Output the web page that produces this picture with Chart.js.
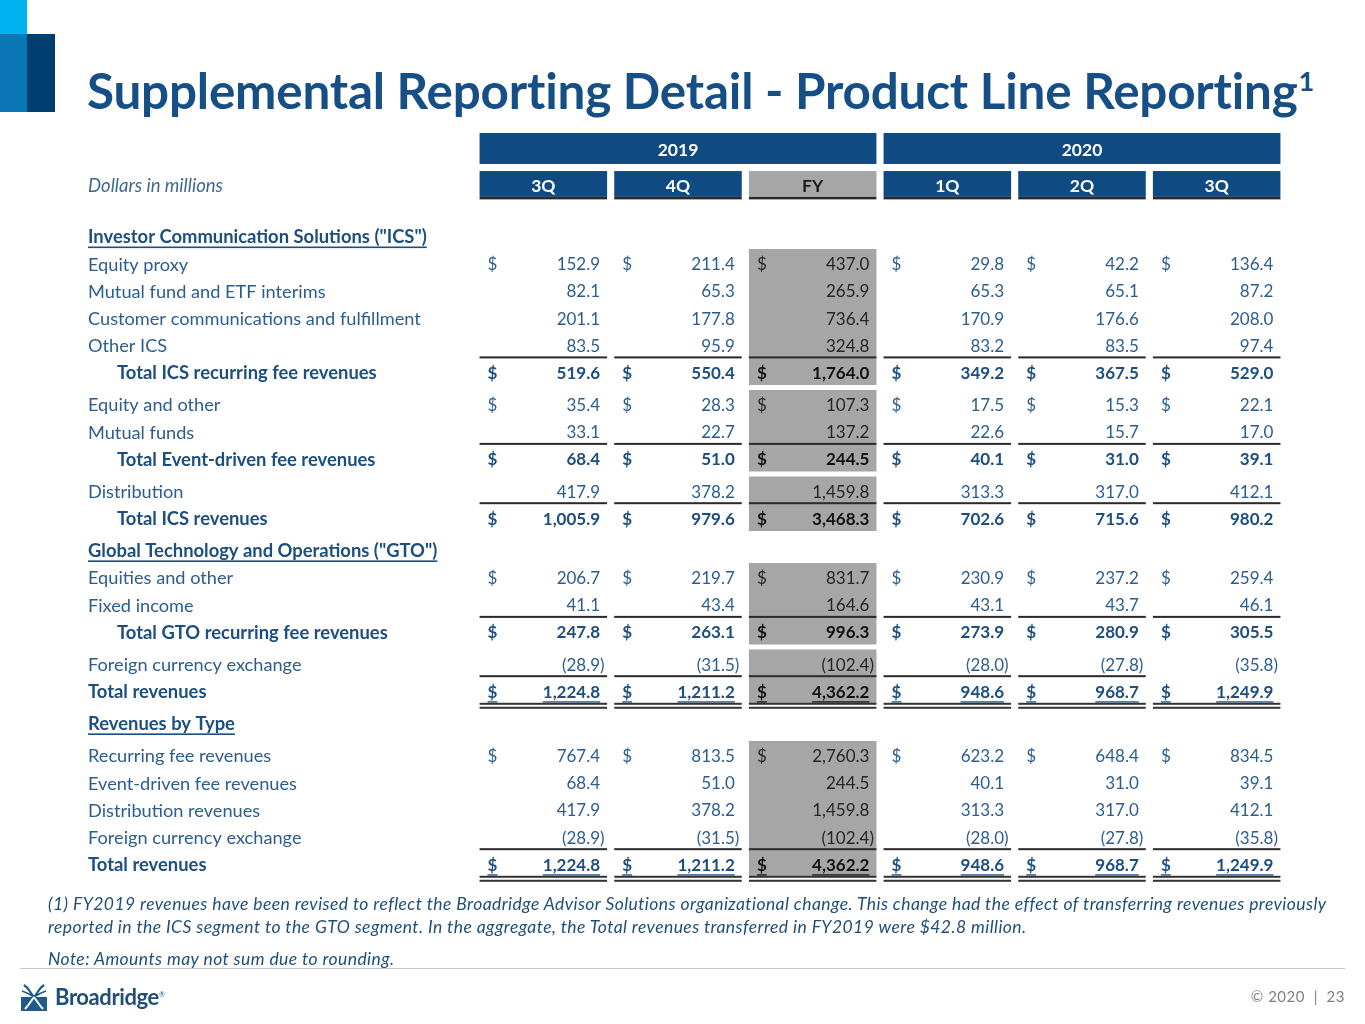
<!DOCTYPE html>
<html>
<head>
<meta charset="utf-8">
<script src="https://cdn.jsdelivr.net/npm/chart.js@4.4.1/dist/chart.umd.min.js"></script>
<style>
  html, body { margin: 0; padding: 0; background: #fff; }
  body { width: 1365px; height: 1024px; position: relative; overflow: hidden; font-family: Lato, "Open Sans", sans-serif; }
  #wrap { position: absolute; left: 0; top: 0; width: 1365px; height: 1024px; }
  .abs { position: absolute; white-space: nowrap; }
  #title { left: 87px; top: 60px; font-weight: 700; font-size: 49.4px; color: #154f86; letter-spacing: -0.2px; }
  #title sup { font-size: 27px; position: relative; margin-left: 1px; vertical-align: 18px; line-height: 0; }
  .note { left: 48px; font-style: italic; font-size: 17.5px; letter-spacing: 0.42px; color: #1f4e79; }
  #rule { left: 20px; top: 968px; width: 1325px; height: 1px; background: #c8c8c8; }
  #brand { left: 55px; top: 983px; font-weight: 700; font-size: 22px; color: #1f4e79; letter-spacing: -0.4px; }
  #brand sup { font-size: 7px; font-weight: 400; }
  #page { right: 20px; top: 987px; font-size: 15px; color: #7f7f7f; letter-spacing: 0.5px; }
</style>
</head>
<body>
<div class="abs" style="left:0;top:0;width:27px;height:34px;background:#00b2ef"></div>
<div class="abs" style="left:0;top:34px;width:27px;height:78px;background:#0a76b5"></div>
<div class="abs" style="left:27px;top:34px;width:28px;height:78px;background:#003e70"></div>
<div id="title" class="abs">Supplemental Reporting Detail - Product Line Reporting<sup>1</sup></div>

<div id="wrap"><canvas id="tbl"></canvas></div>

<div class="abs note" style="top:893px">(1) FY2019 revenues have been revised to reflect the Broadridge Advisor Solutions organizational change. This change had the effect of transferring revenues previously</div>
<div class="abs note" style="top:916px">reported in the ICS segment to the GTO segment. In the aggregate, the Total revenues transferred in FY2019 were $42.8 million.</div>
<div class="abs note" style="top:948px">Note: Amounts may not sum due to rounding.</div>
<div id="rule" class="abs"></div>
<svg class="abs" style="left:21px;top:983px" width="26" height="28" viewBox="0 0 26 28">
  <rect x="0" y="0" width="26" height="28" fill="#ffffff"/>
  <rect x="0" y="14" width="26" height="14" fill="#1f5a8c"/>
  <path d="M3 2 C9 6 9 10 13 14 C17 10 17 6 23 2" stroke="#1f5a8c" stroke-width="2.2" fill="none"/>
  <path d="M1 8 C7 10 10 12 13 14 C16 12 19 10 25 8" stroke="#1f5a8c" stroke-width="1.6" fill="none"/>
  <path d="M13 14 C10 18 8 22 4 26 M13 14 C16 18 18 22 22 26" stroke="#ffffff" stroke-width="2" fill="none"/>
</svg>
<div id="brand" class="abs">Broadridge<sup>&reg;</sup></div>
<div id="page" class="abs">&copy; 2020 &nbsp;|&nbsp; 23</div>

<script>
// ---- data (dollars in millions) ----
const yearLabels = ['2019', '2020'];
const colLabels = ['3Q', '4Q', 'FY', '1Q', '2Q', '3Q'];
const colKeys = ['3Q 2019', '4Q 2019', 'FY 2019', '1Q 2020', '2Q 2020', '3Q 2020'];

const rowLabels = [
  'Investor Communication Solutions ("ICS")',
  'Equity proxy',
  'Mutual fund and ETF interims',
  'Customer communications and fulfillment',
  'Other ICS',
  'Total ICS recurring fee revenues',
  'Equity and other',
  'Mutual funds',
  'Total Event-driven fee revenues',
  'Distribution',
  'Total ICS revenues',
  'Global Technology and Operations ("GTO")',
  'Equities and other',
  'Fixed income',
  'Total GTO recurring fee revenues',
  'Foreign currency exchange',
  'Total revenues',
  'Revenues by Type',
  'Recurring fee revenues',
  'Event-driven fee revenues',
  'Distribution revenues',
  'Foreign currency exchange',
  'Total revenues'
];
const rowKinds = ['section', 'item', 'item', 'item', 'item', 'total', 'item', 'item', 'total', 'item', 'total',
  'section', 'item', 'item', 'total', 'item', 'grand', 'section', 'item', 'item', 'item', 'item', 'grand'];

const q3_2019 = [null, 152.9, 82.1, 201.1, 83.5, 519.6, 35.4, 33.1, 68.4, 417.9, 1005.9,
  null, 206.7, 41.1, 247.8, -28.9, 1224.8, null, 767.4, 68.4, 417.9, -28.9, 1224.8];
const q4_2019 = [null, 211.4, 65.3, 177.8, 95.9, 550.4, 28.3, 22.7, 51.0, 378.2, 979.6,
  null, 219.7, 43.4, 263.1, -31.5, 1211.2, null, 813.5, 51.0, 378.2, -31.5, 1211.2];
const fy_2019 = [null, 437.0, 265.9, 736.4, 324.8, 1764.0, 107.3, 137.2, 244.5, 1459.8, 3468.3,
  null, 831.7, 164.6, 996.3, -102.4, 4362.2, null, 2760.3, 244.5, 1459.8, -102.4, 4362.2];
const q1_2020 = [null, 29.8, 65.3, 170.9, 83.2, 349.2, 17.5, 22.6, 40.1, 313.3, 702.6,
  null, 230.9, 43.1, 273.9, -28.0, 948.6, null, 623.2, 40.1, 313.3, -28.0, 948.6];
const q2_2020 = [null, 42.2, 65.1, 176.6, 83.5, 367.5, 15.3, 15.7, 31.0, 317.0, 715.6,
  null, 237.2, 43.7, 280.9, -27.8, 968.7, null, 648.4, 31.0, 317.0, -27.8, 968.7];
const q3_2020 = [null, 136.4, 87.2, 208.0, 97.4, 529.0, 22.1, 17.0, 39.1, 412.1, 980.2,
  null, 259.4, 46.1, 305.5, -35.8, 1249.9, null, 834.5, 39.1, 412.1, -35.8, 1249.9];
const columns = [q3_2019, q4_2019, fy_2019, q1_2020, q2_2020, q3_2020];

// rows that carry a "$", subtotal rules, and row groups (shaded in the FY column)
const dollarRows = [1, 5, 6, 8, 10, 12, 14, 16, 18, 22];
const ruleBelow = [4, 7, 9, 13, 15, 21];
const rowGroups = [[1, 5], [6, 8], [9, 10], [12, 14], [15, 16], [18, 22]];

// ---- layout ----
const FY = 2;
const W = 1365, H = 1024;
const ROW0 = 235.5, STEP = 27.2, GAP = 0.18;
const AREA_TOP = 128, AREA_BOTTOM = 884;
const GAP_BEFORE = [6, 9, 11, 15, 17, 18];
const LABEL_X = 88, INDENT = 29, TXT_DY = 2;
const FONT = 'Lato, "Open Sans", sans-serif';
const BLUE = '#2c5d8f', BLUE_DARK = '#1c4e80', HEAD = '#0f4b82', GREY = '#a6a6a6', INK = '#262626';
const BAR_PCT = 0.947;

function rowPos(i) {
  return i + GAP * GAP_BEFORE.filter(g => g <= i).length;
}
const yMin = -(ROW0 - AREA_TOP) / STEP;
const yMax = yMin + (AREA_BOTTOM - AREA_TOP) / STEP;

function fmt(v) {
  return Math.abs(v).toLocaleString('en-US', { minimumFractionDigits: 1, maximumFractionDigits: 1 });
}

const blockSets = rowGroups.map(([a, b]) => ({
  data: colKeys.map((_, i) => i === FY ? [rowPos(a) - 0.5, rowPos(b) + 0.5] : null),
  backgroundColor: GREY,
  grouped: false,
  barPercentage: BAR_PCT,
  categoryPercentage: 1
}));

const tablePlugin = {
  id: 'tableCells',
  afterDatasetsDraw(chart) {
    const { ctx, scales: { x, y } } = chart;
    const colW = x.getPixelForValue(1) - x.getPixelForValue(0);
    const half = colW * BAR_PCT / 2;
    const L = i => x.getPixelForValue(i) - half;
    const R = i => x.getPixelForValue(i) + half;
    const Y = v => y.getPixelForValue(v);
    const step = Y(1) - Y(0);
    ctx.save();
    ctx.textBaseline = 'middle';

    // header bands
    const yt = Y(0) - 3.77 * step, yb = Y(0) - 2.63 * step;
    ctx.font = `700 17.5px ${FONT}`;
    ctx.textAlign = 'center';
    yearLabels.forEach((lab, k) => {
      const a = L(k * 3), b = R(k * 3 + 2);
      ctx.fillStyle = HEAD;
      ctx.fillRect(a, yt, b - a, yb - yt);
      ctx.fillStyle = '#fff';
      ctx.fillText(lab, (a + b) / 2, (yt + yb) / 2 + TXT_DY);
    });
    const qt = Y(0) - 2.37 * step, qb = Y(0) - 1.42 * step;
    colLabels.forEach((lab, i) => {
      ctx.fillStyle = i === FY ? GREY : HEAD;
      ctx.fillRect(L(i), qt, R(i) - L(i), qb - qt);
      ctx.fillStyle = '#2a2a2a';
      ctx.fillRect(L(i), qb, R(i) - L(i), 2.5);
      ctx.fillStyle = i === FY ? '#1a1a1a' : '#fff';
      ctx.fillText(lab, x.getPixelForValue(i), (qt + qb) / 2 + TXT_DY);
    });
    ctx.textAlign = 'left';
    ctx.font = `italic 18.5px ${FONT}`;
    ctx.fillStyle = '#3f6892';
    ctx.fillText('Dollars in millions', LABEL_X, (qt + qb) / 2 + TXT_DY);

    // rows
    rowLabels.forEach((lab, r) => {
      const kind = rowKinds[r];
      const cy = Y(rowPos(r)) + TXT_DY;
      const bold = kind !== 'item';
      ctx.textAlign = 'left';
      ctx.font = bold ? `700 18.4px ${FONT}` : `400 18.2px ${FONT}`;
      ctx.fillStyle = bold ? BLUE_DARK : BLUE;
      const lx = kind === 'total' ? LABEL_X + INDENT : LABEL_X;
      ctx.fillText(lab, lx, cy);
      if (kind === 'section') {
        const tw = ctx.measureText(lab).width;
        ctx.fillRect(lx, cy + 9, tw, 1.6);
        return;
      }
      columns.forEach((col, i) => {
        const v = col[r];
        if (v == null) return;
        const color = i === FY ? (bold ? '#111' : INK) : (bold ? BLUE_DARK : BLUE);
        ctx.fillStyle = color;
        ctx.font = `${bold ? 700 : 400} 17px ${FONT}`;
        const rx = R(i) - 7;
        let numL;
        ctx.textAlign = 'right';
        if (v < 0) {
          const s = '(' + fmt(v);
          ctx.fillText(s, rx, cy);
          ctx.textAlign = 'left';
          ctx.fillText(')', rx, cy);
          numL = rx - ctx.measureText(s).width;
        } else {
          const s = fmt(v);
          ctx.fillText(s, rx, cy);
          numL = rx - ctx.measureText(s).width;
        }
        if (dollarRows.includes(r)) {
          ctx.textAlign = 'left';
          ctx.fillText('$', L(i) + 8, cy);
          if (kind === 'grand') {
            const dw = ctx.measureText('$').width;
            ctx.fillRect(L(i) + 8, cy + 9, dw, 1.3);
          }
        }
        const by = Y(rowPos(r));
        if (kind === 'grand') {
          ctx.fillRect(numL, cy + 9, rx - numL, 1.3);
          ctx.fillStyle = '#333';
          ctx.fillRect(L(i), by + 12.5, R(i) - L(i), 2);
          ctx.fillRect(L(i), by + 16.5, R(i) - L(i), 2);
        }
        if (ruleBelow.includes(r) && !(r === 15 && i === 5)) {
          ctx.fillStyle = '#2a2a2a';
          ctx.fillRect(L(i), Y(rowPos(r) + 0.5) - 1.5, R(i) - L(i), 2);
        }
      });
    });
    ctx.restore();
  }
};

new Chart(document.getElementById('tbl'), {
  type: 'bar',
  data: { labels: colKeys, datasets: blockSets },
  options: {
    responsive: true,
    maintainAspectRatio: false,
    animation: false,
    layout: { padding: { left: 476, right: W - 1284, top: AREA_TOP, bottom: H - AREA_BOTTOM } },
    scales: {
      x: { display: false, offset: true, grid: { display: false } },
      y: { display: false, reverse: true, min: yMin, max: yMax, grid: { display: false } }
    },
    plugins: { legend: { display: false }, tooltip: { enabled: false } }
  },
  plugins: [tablePlugin]
});
</script>
</body>
</html>
